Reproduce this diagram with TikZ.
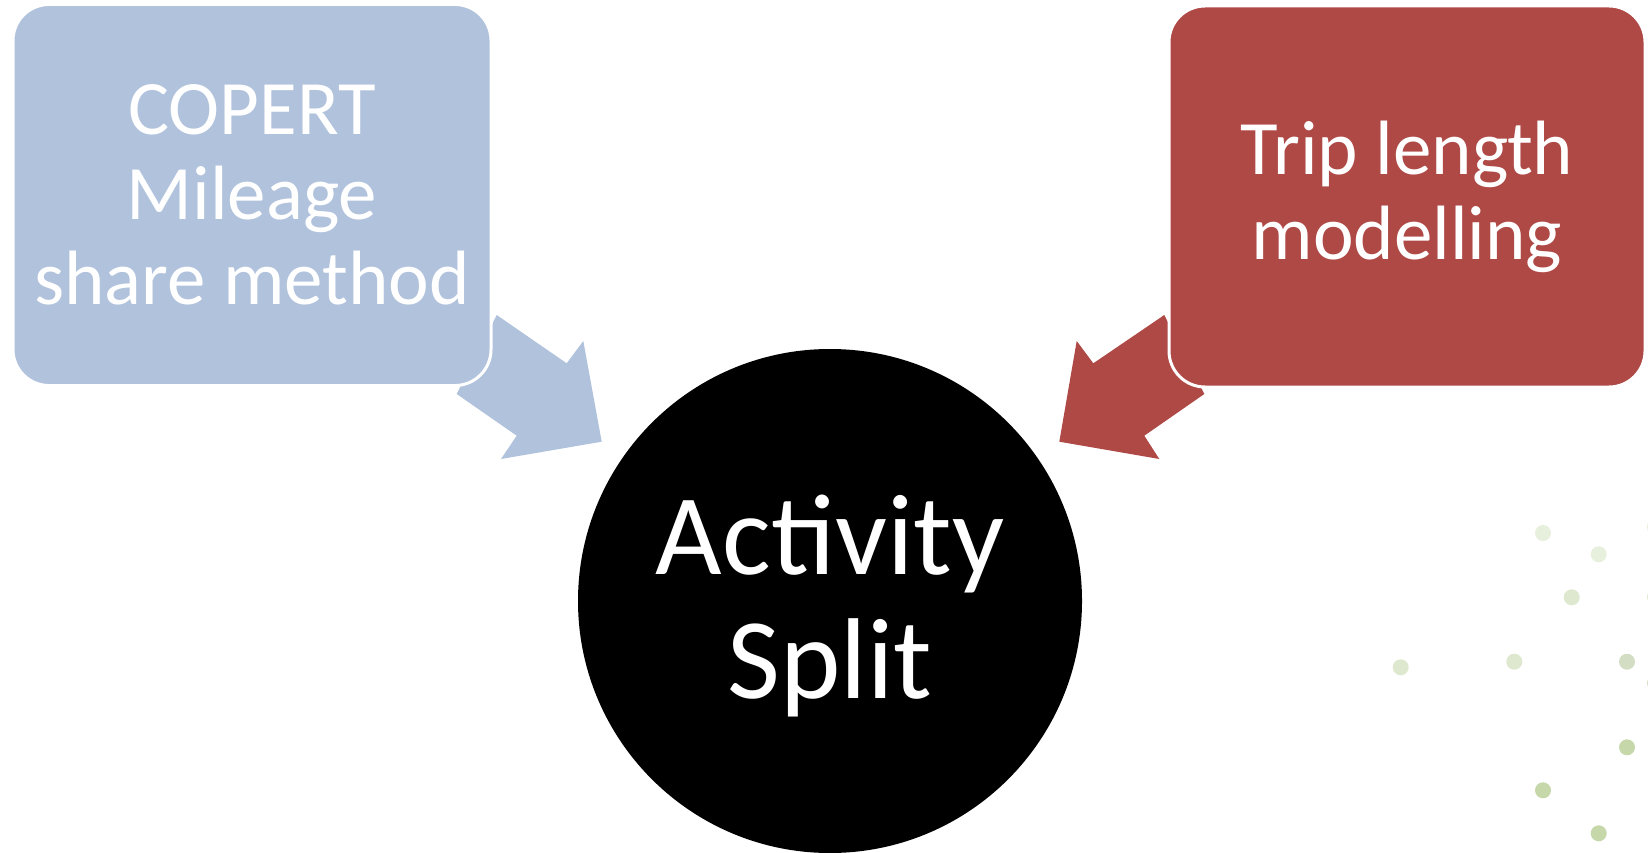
\documentclass[tikz,border=0pt]{standalone}
\usepackage{fontspec}
\setmainfont{Carlito}
\begin{document}
\begin{tikzpicture}[x=1pt,y=-1pt,
  boxnode/.style={rounded corners=36pt, draw=white, line width=3pt,
    minimum width=478pt, minimum height=381pt, inner sep=0pt,
    text=white, align=center, font=\fontsize{77}{85}\selectfont},
  hubnode/.style={circle, fill=black, minimum size=504pt, inner sep=0pt,
    text=white, align=center, font=\fontsize{115}{124}\selectfont},
  dot/.style={circle, inner sep=0pt, minimum size=16pt}]
\definecolor{copertblue}{HTML}{B1C2DC}
\definecolor{tripred}{HTML}{AE4946}
\definecolor{dotA}{HTML}{E7EFDD}
\definecolor{dotB}{HTML}{DDE8CF}
\definecolor{dotC}{HTML}{D3DDC3}
\definecolor{dotD}{HTML}{C6D7AA}
\useasboundingbox (0,0) rectangle (1648,853);

% block arrows pointing into the hub
\fill[copertblue] (496.7,315) -- (566.7,363.3) -- (583.3,341) -- (601.7,441.7)
  -- (501,459) -- (516.7,435.7) -- (456.7,394) -- cycle;
\fill[tripred] (1164.3,315) -- (1093.3,363.3) -- (1076.7,341) -- (1059.3,441.7)
  -- (1159.3,459) -- (1144.3,435.7) -- (1204.3,394) -- cycle;

% source boxes and the hub
\node[boxnode, fill=copertblue] (copert) at (252,195) {COPERT\\Mileage\\share method};
\node[boxnode, fill=tripred, minimum width=476pt] (trip) at (1407,196.5) {Trip length\\modelling};
\node[hubnode] (split) at (830,601) {};
\node[text=white, align=center, font=\fontsize{115}{124}\selectfont] (splitlabel) at (830,606) {Activity\\Split};

% decorative dots
\node[dot, fill=dotA] (d1) at (1543,533) {};
\node[dot, fill=dotA] (d2) at (1598.7,554.3) {};
\node[dot, fill=dotB] (d3) at (1571.7,597.3) {};
\node[dot, fill=dotB] (d4) at (1400.7,667.3) {};
\node[dot, fill=dotB] (d5) at (1514.3,661.7) {};
\node[dot, fill=dotC] (d6) at (1627,661.7) {};
\node[dot, fill=dotD] (d7) at (1627,747.3) {};
\node[dot, fill=dotD] (d8) at (1543,790.3) {};
\node[dot, fill=dotD] (d9) at (1598.7,833.3) {};
\node[dot, fill=dotA] (e1) at (1655,527) {};
\node[dot, fill=dotB] (e2) at (1655,597) {};
\node[dot, fill=dotC] (e3) at (1655,683) {};
\end{tikzpicture}
\end{document}
